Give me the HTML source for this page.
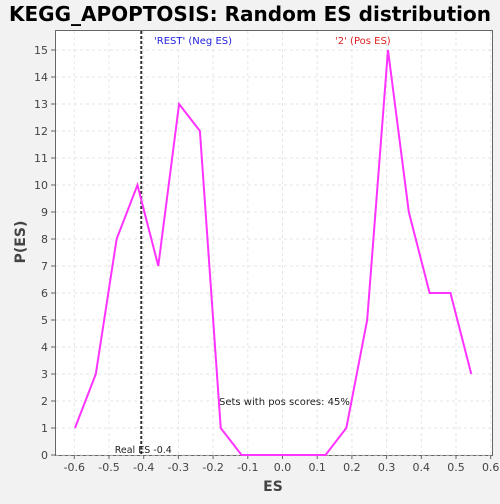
<!DOCTYPE html>
<html><head><meta charset="utf-8"><style>
body{margin:0;background:#f2f2f2;font-family:"DejaVu Sans","Liberation Sans",sans-serif}
svg text{font-family:"DejaVu Sans","Liberation Sans",sans-serif}
</style></head><body>
<svg id="c" width="500" height="500">
<rect x="0" y="0" width="500" height="500" fill="#f2f2f2"/>
<text x="250" y="21" text-anchor="middle" font-size="20" font-weight="bold" fill="#000">KEGG_APOPTOSIS: Random ES distribution</text>
<rect x="55.5" y="30.5" width="437" height="425" fill="#fff" stroke="#666"/>
<g id="grid"></g><g id="ticks"></g>
<text x="273" y="491" text-anchor="middle" font-size="14" font-weight="bold" fill="#444">ES</text>
<text x="25" y="242" text-anchor="middle" font-size="14" font-weight="bold" fill="#444" transform="rotate(-90 25 242)">P(ES)</text>
<text x="154" y="44" font-size="10" fill="#2222dd">'REST' (Neg ES)</text>
<text x="335" y="44" font-size="10" fill="#dd2222">'2' (Pos ES)</text>
<text x="219" y="405" font-size="10" fill="#222">Sets with pos scores: 45%</text>
<g id="marks"></g>
</svg>
<script>
const esValues=[-0.598,-0.538,-0.478,-0.418,-0.358,-0.298,-0.238,-0.178,-0.118,-0.058,0.002,0.062,0.124,0.184,0.244,0.304,0.364,0.424,0.484,0.544];
const pValues=[1,3,8,10,7,13,12,1,0,0,0,0,0,1,5,15,9,6,6,3];
const xTicks=[-0.6,-0.5,-0.4,-0.3,-0.2,-0.1,0.0,0.1,0.2,0.3,0.4,0.5,0.6];
const yTicks=[0,1,2,3,4,5,6,7,8,9,10,11,12,13,14,15];
const realES=-0.407;
const X=v=>282.5+v*347;
const Y=v=>455-v*27;
const NS="http://www.w3.org/2000/svg";
const g=document.getElementById('grid'),t=document.getElementById('ticks'),m=document.getElementById('marks');
function mk(p,tag,a){const e=document.createElementNS(NS,tag);for(const k in a)e.setAttribute(k,a[k]);p.appendChild(e);return e;}
xTicks.forEach(v=>{
 const l=mk(g,'line',{x1:X(v),x2:X(v),y1:31,y2:455,stroke:'#e4e4e4','stroke-dasharray':'3,3'});
 
 
 const tk=mk(t,'line',{x1:X(v),x2:X(v),y1:455,y2:459,stroke:'#666'});
 
 
 const tx=mk(t,'text',{x:X(v),y:471,'text-anchor':'middle','font-size':11,fill:'#444'});
 tx.textContent=v.toFixed(1);
 
 
});
yTicks.forEach(v=>{
 const l=mk(g,'line',{x1:56,x2:492,y1:Y(v),y2:Y(v),stroke:'#e4e4e4','stroke-dasharray':'3,3'});
 
 
 const tk=mk(t,'line',{x1:51,x2:55,y1:Y(v),y2:Y(v),stroke:'#666'});
 
 
 const tx=mk(t,'text',{x:48,y:Y(v)+4,'text-anchor':'end','font-size':11,fill:'#444'});
 tx.textContent=v;
 
 
});
const rl=mk(m,'line',{x1:X(realES),x2:X(realES),y1:31,y2:455,stroke:'#333','stroke-width':2,'stroke-dasharray':'3,2'});


const rt=mk(m,'text',{x:X(realES)+2,y:453,'text-anchor':'middle','font-size':9.5,fill:'#222'});
rt.textContent='Real ES -0.4';


const pl=mk(m,'polyline',{points:esValues.map((v,i)=>X(v)+','+Y(pValues[i])).join(' '),fill:'none',stroke:'#ff33ff','stroke-width':2});


</script>
</body></html>
